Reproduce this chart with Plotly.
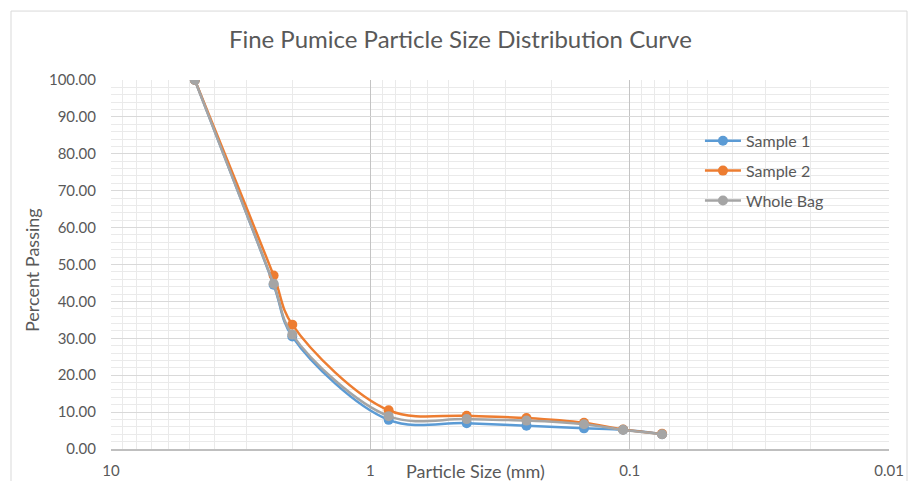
import plotly.graph_objects as go

sizes = [4.75, 2.36, 2.0, 0.85, 0.425, 0.25, 0.15, 0.106, 0.075]
sample1 = [100.0, 44.5, 30.5, 7.9, 7.0, 6.3, 5.6, 5.2, 4.0]
sample2 = [100.0, 47.0, 33.7, 10.5, 9.0, 8.4, 7.1, 5.3, 4.1]
whole_bag = [100.0, 44.8, 31.0, 8.9, 8.1, 7.7, 6.7, 5.2, 4.0]

series = [
    ("Sample 1", sample1, "#5B9BD5"),
    ("Sample 2", sample2, "#ED7D31"),
    ("Whole Bag", whole_bag, "#A5A5A5"),
]

x_tickvals = [10, 1, 0.1, 0.01]
x_ticktext = ["10", "1", "0.1", "0.01"]

FONT = "Lato"
TXT = "#595959"

fig = go.Figure()
for name, vals, col in series:
    fig.add_trace(go.Scatter(
        x=sizes, y=vals, name=name, mode="lines+markers",
        line=dict(color=col, width=2.5, shape="spline"),
        marker=dict(color=col, size=10),
        legendgroup=name,
    ))

fig.update_layout(
    width=908, height=481,
    margin=dict(l=111, r=19, t=80, b=32),
    paper_bgcolor="white", plot_bgcolor="white",
    font=dict(family=FONT, size=15, color=TXT),
    title=dict(text="Fine Pumice Particle Size Distribution Curve",
               x=0.507, xref="container", xanchor="center",
               y=0.918, yref="container", yanchor="middle",
               font=dict(family=FONT, size=24, color=TXT)),
    legend=dict(x=0.757, y=0.881, xanchor="left", yanchor="top",
                bgcolor="rgba(0,0,0,0)", font=dict(size=16, color=TXT),
                itemwidth=36, tracegroupgap=6, traceorder="grouped"),
    showlegend=True,
)

fig.update_xaxes(
    type="log", range=[1, -2], automargin=False,
    tickvals=x_tickvals, ticktext=x_ticktext,
    showgrid=True, gridcolor="#C4C4C4", gridwidth=1,
    minor=dict(dtick="D1", showgrid=True, gridcolor="#EAEAEA", gridwidth=1),
    showline=True, linecolor="#BFBFBF", linewidth=1.5,
    ticks="", ticklabelstandoff=7, zeroline=False,
    tickfont=dict(family=FONT, size=15, color=TXT),
)
fig.update_yaxes(
    range=[0, 100], dtick=10, tickformat=".2f", automargin=False,
    showgrid=True, gridcolor="#D9D9D9", gridwidth=1,
    minor=dict(dtick=2, showgrid=True, gridcolor="#EAEAEA", gridwidth=1),
    showline=False, zeroline=False, ticks="", ticklabelstandoff=14,
    tickfont=dict(family=FONT, size=15, color=TXT),
)

fig.add_annotation(text="Percent Passing", xref="paper", yref="paper",
                   x=-0.1015, y=0.485, textangle=-90, showarrow=False,
                   xanchor="center", yanchor="middle",
                   font=dict(family=FONT, size=18, color=TXT))
fig.add_annotation(text="Particle Size (mm)", xref="paper", yref="paper",
                   x=0.469, y=-0.059, showarrow=False,
                   xanchor="center", yanchor="middle",
                   font=dict(family=FONT, size=18, color=TXT))

# chart-area border
fig.add_shape(type="rect", xref="paper", yref="paper",
              x0=(11 - 111) / 778, x1=(907 - 111) / 778,
              y0=(449.3 - 490) / 369.3, y1=(449.3 - 11) / 369.3,
              line=dict(color="#D9D9D9", width=1), layer="below")

fig.write_html("out.html")
